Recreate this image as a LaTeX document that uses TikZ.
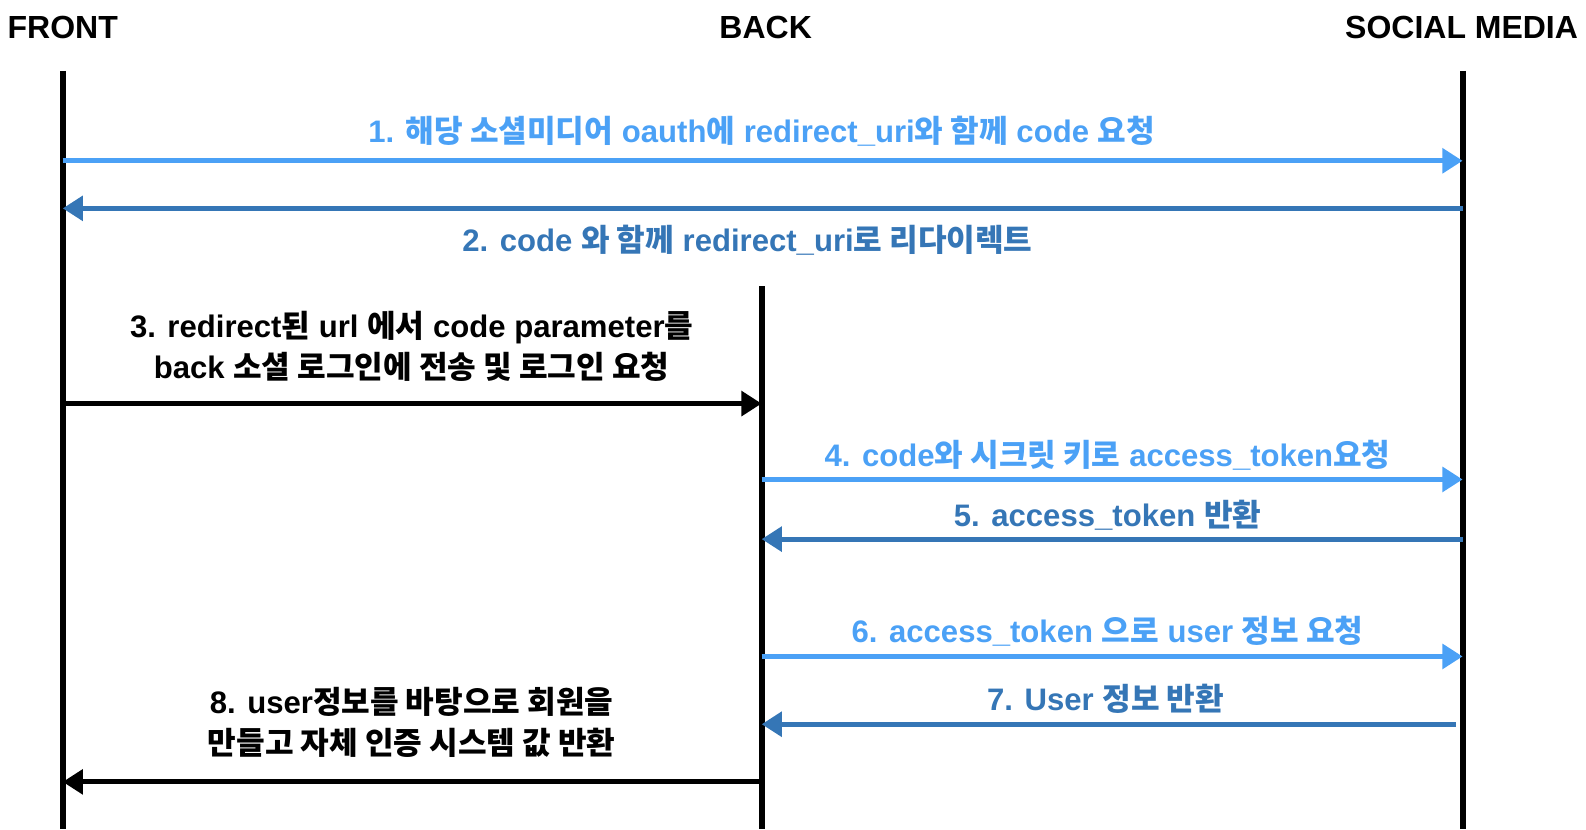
\documentclass[tikz,border=0pt]{standalone}
\usepackage{fontspec}
\setmainfont{Liberation Sans}
\newfontfamily\kofont{Noto Sans CJK KR}
\newcommand{\ko}[1]{{\kofont #1}}
\usetikzlibrary{arrows.meta,positioning}
\definecolor{SQReq}{HTML}{4BA1F6}
\definecolor{SQRes}{HTML}{3576B6}
\definecolor{SQInk}{HTML}{000000}
\tikzset{
  msg/.style={-{Triangle[length=4mm,width=4.8mm]},line width=1mm},
  msgreq/.style={msg,SQReq},
  msgres/.style={msg,SQRes},
  msgink/.style={msg,SQInk},
  lifeline/.style={SQInk,line width=1.2mm},
  head/.style={font=\fontsize{18}{21}\selectfont\bfseries,inner sep=0pt},
  msglabel/.style={font=\fontsize{17.5}{23}\selectfont\bfseries,align=center,inner sep=0pt},
  reqlabel/.style={msglabel,text=SQReq},
  reslabel/.style={msglabel,text=SQRes},
}
\begin{document}
\begin{tikzpicture}[x=.02cm,y=-.02cm]
  \useasboundingbox (0,0) rectangle (1568,820);

  % the three parties
  \node[head] (front) at (62,27) {FRONT};
  \node[head] (back) at (757,27) {BACK};
  \node[head] (social) at (1445,27) {SOCIAL MEDIA};
  \coordinate (fronttop) at (62,70);
  \coordinate (backtop) at (753,283);
  \coordinate (socialtop) at (1446,70);
  \coordinate (bottom) at (0,820);
  \draw[lifeline] (fronttop) -- (fronttop |- bottom);
  \draw[lifeline] (backtop) -- (backtop |- bottom);
  \draw[lifeline] (socialtop) -- (socialtop |- bottom);

  % front <-> social media
  \coordinate (y1) at (0,159);
  \coordinate (y2) at (0,206);
  \draw[msgreq] (fronttop |- y1) -- (socialtop |- y1);
  \node[reqlabel] (lab1) at (753,130)
    {1. \ko{해당 소셜미디어} oauth\ko{에} redirect\_uri\ko{와 함께} code \ko{요청}};
  \draw[msgres] (socialtop |- y2) -- (fronttop |- y2);
  \node[reslabel] (lab2) at (739,237)
    {2. code \ko{와 함께} redirect\_uri\ko{로 리다이렉트}};

  % front -> back
  \coordinate (y3) at (0,399);
  \draw[msgink] (fronttop |- y3) -- (backtop |- y3);
  \node[msglabel] (lab3) at (407,342)
    {3. redirect\ko{된} url \ko{에서} code parameter\ko{를}\\
     back \ko{소셜 로그인에 전송 및 로그인 요청}};

  % back <-> social media
  \coordinate (y4) at (0,474);
  \coordinate (y5) at (0,533);
  \coordinate (y6) at (0,649);
  \coordinate (y7) at (0,716);
  \coordinate (end7) at (1439,716);
  \draw[msgreq] (backtop |- y4) -- (socialtop |- y4);
  \node[reqlabel] (lab4) at (1095,450)
    {4. code\ko{와 시크릿 키로} access\_token\ko{요청}};
  \draw[msgres] (socialtop |- y5) -- (backtop |- y5);
  \node[reslabel] (lab5) at (1095,509) {5. access\_token \ko{반환}};
  \draw[msgreq] (backtop |- y6) -- (socialtop |- y6);
  \node[reqlabel] (lab6) at (1095,624)
    {6. access\_token \ko{으로} user \ko{정보 요청}};
  \draw[msgres] (end7) -- (backtop |- y7);
  \node[reslabel] (lab7) at (1093,691) {7. User \ko{정보 반환}};

  % back -> front
  \coordinate (y8) at (0,773);
  \draw[msgink] (backtop |- y8) -- (fronttop |- y8);
  \node[msglabel] (lab8) at (407,714)
    {8. user\ko{정보를 바탕으로 회원을}\\
     \ko{만들고 자체 인증 시스템 값 반환}};
\end{tikzpicture}
\end{document}
